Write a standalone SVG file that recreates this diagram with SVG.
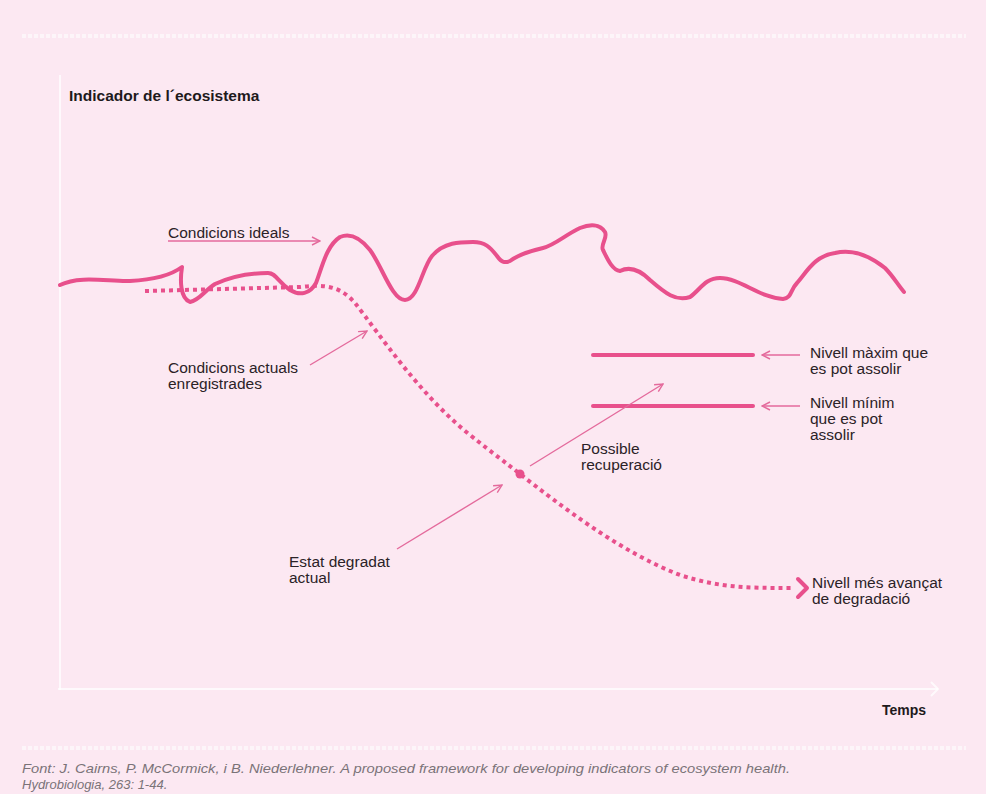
<svg xmlns="http://www.w3.org/2000/svg" width="986" height="794" viewBox="0 0 986 794">
<defs>
<style>
.lbl{font-family:"Liberation Sans",Arial,sans-serif;font-size:15.5px;fill:#2b2227}
.bold{font-family:"Liberation Sans",Arial,sans-serif;font-weight:bold;fill:#1e1a1c}
.foot{font-family:"Liberation Sans",Arial,sans-serif;font-style:italic;font-size:13px;fill:#7a7378}
.thin{stroke:#e46a9c;stroke-width:1.4;fill:none}
.thick{stroke:#e8508c;stroke-width:4;fill:none;stroke-linecap:round;stroke-linejoin:round}
.dots{stroke:#e8508c;stroke-width:4;fill:none;stroke-dasharray:4 4}
.wdash{stroke:#ffffff;stroke-width:4;stroke-dasharray:4 2;opacity:0.6}
.axis{stroke:#ffffff;stroke-width:2;fill:none;opacity:0.75}
</style>
<marker id="open" viewBox="0 0 10 10" refX="9" refY="5" markerWidth="10" markerHeight="10" markerUnits="userSpaceOnUse" orient="auto">
<path d="M1,1 L9,5 L1,9" fill="none" stroke="#e46a9c" stroke-width="1.4"/>
</marker>
</defs>
<rect x="0" y="0" width="986" height="794" fill="#fce8f2"/>
<line class="wdash" x1="22" y1="36" x2="966" y2="36"/>
<line class="wdash" x1="22" y1="748" x2="966" y2="748"/>
<g id="axes">
<line class="axis" x1="60" y1="75" x2="60" y2="690"/>
<line class="axis" x1="58" y1="689" x2="938" y2="689"/>
<polyline class="axis" points="931,682 938,689 931,696"/>
<text class="bold" x="69" y="101" font-size="15.5">Indicador de l´ecosistema</text>
<text class="bold" x="882" y="715" font-size="14">Temps</text>
</g>
<g id="ideal-curve">
<path class="thick" d="M60,285 C80,275 110,282 130,281 C150,280 170,276 182,267 C180,280 180,298 190,302 C200,300 205,290 215,284 C230,277 250,273 268,273 C276,273 278,282 290,290 C300,296 310,294 316,283 C322,268 326,246 340,237 C352,232 362,240 370,250 C382,266 392,300 405,300 C418,300 422,268 432,256 C444,242 460,242 473,242 C485,242 490,247 497,256 C502,263 505,263 510,261 C518,255 530,251 543,248 C555,245 565,235 580,228 C590,224 600,224 605,232 C608,238 600,245 603,250 C607,258 612,270 620,271 C630,266 640,270 650,280 C665,293 676,302 690,297 C700,290 705,278 720,278 C740,278 760,298 783,299 C792,298 790,290 797,283 C808,270 815,256 835,253 C852,249 870,256 885,268 C893,276 898,285 904,292"/>
</g>
<g id="actual-curve">
<path class="dots" d="M145,291 L300,287 C325,284 340,286 355,303 C380,335 420,395 470,435 C495,455 505,462 520,474 C560,505 620,552 680,575 C720,588 750,588 792,588"/>
<circle cx="520" cy="474" r="4.5" fill="#e8508c"/>
<polyline class="thick" points="798,579 807,588 798,597" stroke-linecap="butt" stroke-linejoin="miter"/>
</g>
<g id="levels">
<line class="thick" x1="593" y1="355" x2="753" y2="355" stroke-linecap="butt"/>
<line class="thick" x1="593" y1="406" x2="753" y2="406" stroke-linecap="butt"/>
</g>
<g id="connectors">
<line class="thin" x1="168" y1="241" x2="320" y2="241" marker-end="url(#open)"/>
<line class="thin" x1="310" y1="365" x2="367" y2="331" marker-end="url(#open)"/>
<line class="thin" x1="397" y1="549" x2="502" y2="485" marker-end="url(#open)"/>
<line class="thin" x1="530" y1="466" x2="663" y2="384" marker-end="url(#open)"/>
<line class="thin" x1="800" y1="355" x2="762" y2="355" marker-end="url(#open)"/>
<line class="thin" x1="800" y1="406" x2="762" y2="406" marker-end="url(#open)"/>
</g>
<g id="label-ideals"><text class="lbl" x="168" y="238">Condicions ideals</text></g>
<g id="label-actuals"><text class="lbl" x="168" y="373">Condicions actuals</text><text class="lbl" x="168" y="389">enregistrades</text></g>
<g id="label-degradat"><text class="lbl" x="289" y="567">Estat degradat</text><text class="lbl" x="289" y="583">actual</text></g>
<g id="label-recuperacio"><text class="lbl" x="581" y="454">Possible</text><text class="lbl" x="581" y="470">recuperació</text></g>
<g id="label-maxim"><text class="lbl" x="810" y="358">Nivell màxim que</text><text class="lbl" x="810" y="374">es pot assolir</text></g>
<g id="label-minim"><text class="lbl" x="810" y="408">Nivell mínim</text><text class="lbl" x="810" y="424">que es pot</text><text class="lbl" x="810" y="440">assolir</text></g>
<g id="label-degradacio"><text class="lbl" x="812" y="588">Nivell més avançat</text><text class="lbl" x="812" y="604">de degradació</text></g>
<g id="footer">
<text class="foot" x="22" y="773" textLength="768" lengthAdjust="spacingAndGlyphs">Font: J. Cairns, P. McCormick, i B. Niederlehner. A proposed framework for developing indicators of ecosystem health.</text>
<text class="foot" x="22" y="789">Hydrobiologia, 263: 1-44.</text>
</g>
</svg>
